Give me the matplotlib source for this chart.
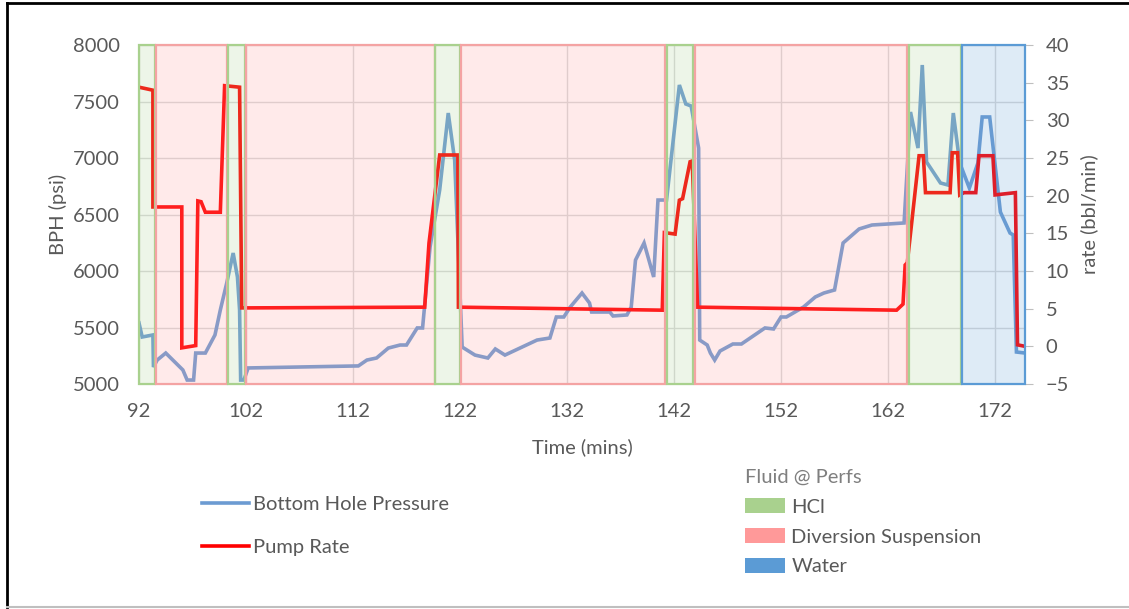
import matplotlib
matplotlib.use("Agg")
import matplotlib.pyplot as plt
from matplotlib.lines import Line2D
from matplotlib.patches import Patch
from matplotlib.colors import to_rgba

plt.rcParams['font.family'] = ['Lato', 'DejaVu Sans']

# ---- data ----
bhp_time = [92.0, 92.3, 93.3, 93.35, 93.7, 94.5, 96.1, 96.5, 97.1, 97.3, 98.2, 99.1,
            99.6, 100.2, 100.8, 101.2, 101.4, 101.5, 101.8, 102.2, 112.5, 113.3, 114.2,
            115.3, 116.4, 117.0, 118.0, 118.5, 119.2, 120.1, 120.9, 121.5, 122.2, 123.4,
            124.6, 125.3, 126.2, 129.2, 130.4, 131.0, 131.7, 132.3, 133.4, 134.1, 134.3,
            136.0, 136.3, 137.6, 138.0, 138.4, 139.2, 140.1, 140.5, 141.3, 142.5, 143.1,
            143.6, 144.3, 144.4, 145.1, 145.4, 145.8, 146.3, 147.5, 148.3, 150.5, 151.3,
            152.0, 152.5, 154.1, 155.2, 156.0, 157.0, 157.8, 159.3, 160.5, 163.5, 164.1,
            164.8, 165.2, 165.6, 166.9, 167.6, 168.1, 168.7, 169.6, 170.4, 170.8, 171.5,
            172.5, 173.4, 173.7, 174.0, 174.8]
bhp_psi = [5540, 5416, 5434, 5150, 5212, 5274, 5124, 5035, 5035, 5274, 5274, 5434,
           5655, 5894, 6159, 5947, 5655, 5035, 5035, 5142, 5160, 5212, 5230,
           5318, 5345, 5345, 5496, 5496, 6212, 6717, 7398, 6982, 5327, 5256,
           5230, 5310, 5256, 5389, 5407, 5593, 5593, 5681, 5805, 5717, 5637,
           5637, 5602, 5611, 5681, 6097, 6248, 5947, 6628, 6628, 7646, 7478,
           7460, 7088, 5389, 5345, 5274, 5212, 5292, 5354, 5354, 5496, 5487,
           5593, 5593, 5681, 5770, 5805, 5832, 6248, 6372, 6407, 6425, 7407,
           7088, 7823, 6965, 6779, 6761, 7398, 6956, 6734, 6956, 7363, 7363,
           6522, 6336, 6319, 5283, 5274]

rate_time = [92.0, 93.3, 93.3, 96.0, 96.0, 97.3, 97.5, 97.8, 98.2, 99.6, 100.0, 101.4,
             101.6, 118.7, 119.1, 120.1, 121.8, 121.85, 140.9, 141.1, 142.1, 142.5,
             142.8, 143.5, 143.7, 144.2, 162.8, 163.4, 163.6, 163.8, 164.9, 165.3,
             165.5, 167.8, 168.0, 168.5, 168.7, 169.1, 170.2, 170.5, 171.8, 172.0,
             173.9, 174.1, 174.8]
rate_bpm = [34.4, 34.0, 18.5, 18.5, -0.2, 0.1, 19.3, 19.2, 17.8, 17.8, 34.6, 34.4,
            5.1, 5.2, 13.7, 25.4, 25.4, 5.2, 4.8, 15.1, 14.9, 19.4,
            19.6, 24.5, 24.6, 5.2, 4.8, 5.6, 10.8, 11.1, 25.3, 25.3,
            20.4, 20.4, 25.7, 25.7, 20.1, 20.4, 20.4, 25.3, 25.3, 20.1,
            20.4, 0.2, 0.0]

# fluid stages at perfs: (start, end, fluid)
stage_start = [92.0, 93.6, 100.3, 102.0, 119.7, 122.1, 141.3, 144.0, 164.0, 168.9]
stage_end = [93.5, 100.2, 101.9, 119.7, 122.0, 141.2, 143.8, 163.8, 168.8, 174.8]
stage_fluid = ['HCl', 'Diversion Suspension', 'HCl', 'Diversion Suspension', 'HCl',
               'Diversion Suspension', 'HCl', 'Diversion Suspension', 'HCl', 'Water']

fluid_names = ['HCl', 'Diversion Suspension', 'Water']
fluid_colors = {'HCl': '#A9D18E', 'Diversion Suspension': '#FF9999', 'Water': '#5B9BD5'}
fluid_edges = {'HCl': '#A9D18E', 'Diversion Suspension': '#F4A3A3', 'Water': '#5B9BD5'}

x_ticks = [92, 102, 112, 122, 132, 142, 152, 162, 172]
psi_ticks = [5000, 5500, 6000, 6500, 7000, 7500, 8000]
rate_ticks = [-5, 0, 5, 10, 15, 20, 25, 30, 35, 40]

# ---- figure ----
W, H = 1129, 609
fig = plt.figure(figsize=(W / 100, H / 100), dpi=100)
ax = fig.add_axes([139 / W, (H - 384) / H, 886 / W, 339 / H])
ax2 = ax.twinx()

txt = '#595959'
grid_c = '#D9D9D9'

ax.plot(bhp_time, bhp_psi, color='#6C9BD2', lw=2.6, zorder=2, solid_joinstyle='miter')
ax2.plot(rate_time, rate_bpm, color='#FF0000', lw=2.6, zorder=2, solid_joinstyle='miter')

for s, e, f in zip(stage_start, stage_end, stage_fluid):
    ax2.axvspan(s, e, facecolor=to_rgba(fluid_colors[f], 0.2),
                edgecolor=fluid_edges[f], lw=1.6, zorder=5, clip_on=False)

ax.set_xlim(92, 174.8)
ax.set_ylim(5000, 8000)
ax2.set_ylim(-5, 40)
ax.set_xticks(x_ticks)
ax.set_yticks(psi_ticks)
ax2.set_yticks(rate_ticks)

ax.grid(True, color=grid_c, lw=1.0)
ax.set_axisbelow(True)

for a in (ax, ax2):
    for sp in a.spines.values():
        sp.set_visible(False)
ax.spines['bottom'].set_visible(True)
ax.spines['bottom'].set_color(grid_c)

fs = 14.5
ax.tick_params(axis='y', length=0, pad=14, labelsize=fs, labelcolor=txt)
ax.tick_params(axis='x', length=0, pad=14, labelsize=fs, labelcolor=txt)
ax2.tick_params(axis='y', length=6, color='#BFBFBF', pad=9, labelsize=fs, labelcolor=txt)

ax.set_xlabel('Time (mins)', fontsize=fs, color=txt, labelpad=13)
ax.set_ylabel('BPH (psi)', fontsize=fs, color=txt, labelpad=4)
ax2.set_ylabel('rate (bbl/min)', fontsize=fs, color=txt, labelpad=8)

# legends
line_handles = [Line2D([], [], color='#6C9BD2', lw=2.6),
                Line2D([], [], color='#FF0000', lw=2.6)]
leg1 = fig.legend(line_handles, ['Bottom Hole Pressure', 'Pump Rate'],
                  loc='upper left', bbox_to_anchor=(202 / W, 1 - 496 / H),
                  frameon=False, fontsize=fs, labelcolor=txt,
                  handlelength=2.35, handletextpad=0.2, labelspacing=1.3,
                  borderpad=0, borderaxespad=0)

patch_handles = [Patch(facecolor=fluid_colors[n], edgecolor='none') for n in fluid_names]
leg2 = fig.legend(patch_handles, fluid_names, title='Fluid @ Perfs',
                  loc='upper left', bbox_to_anchor=(745 / W, 1 - 469 / H),
                  frameon=False, fontsize=fs, labelcolor=txt, title_fontsize=fs,
                  handlelength=2.0, handleheight=0.8, handletextpad=0.3,
                  labelspacing=0.6, borderpad=0, borderaxespad=0, alignment='left')
leg2.get_title().set_color('#7F7F7F')

# outer frame
fig.add_artist(Line2D([7 / W, 1.0], [1 - 3 / H, 1 - 3 / H], color='black', lw=2,
                      transform=fig.transFigure))
fig.add_artist(Line2D([7 / W, 7 / W], [1 - 3 / H, 2 / H], color='black', lw=2,
                      transform=fig.transFigure))
fig.add_artist(Line2D([7 / W, 1.0], [2 / H, 2 / H], color='#BFBFBF', lw=1.5,
                      transform=fig.transFigure))

fig.savefig('out.png', dpi=100, facecolor='white')
